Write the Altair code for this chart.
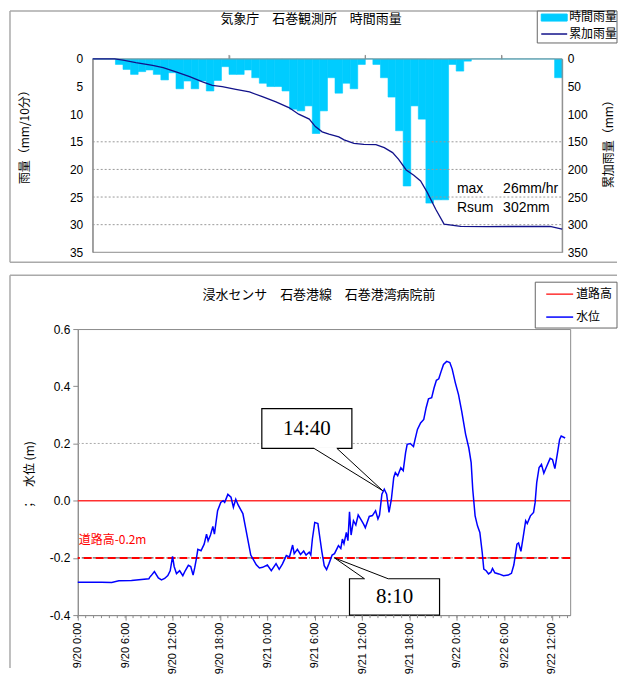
import altair as alt
import pandas as pd

CJK = "Noto Sans CJK JP"
LAT = "Liberation Sans"
SERIF = "Liberation Serif"
CYAN = "#00CCFF"
NAVY = "#12128A"
BLUE = "#0000FF"
RED = "#FF3030"
GREY = "#8C8C8C"

# ---------------- top panel data ----------------
# hourly rainfall, one bar per hour counted from 9/20 0:00
rain_hour = list(range(62))
rain_mm = [0, 0, 0, 1.0, 1.9, 2.8, 2.3, 2.0, 2.8, 3.8, 2.5, 5.4, 4.0, 5.4, 4.0, 5.8, 3.9, 1.4,
           2.8, 2.8, 2.0, 3.4, 4.4, 5.0, 5.0, 5.8, 9.1, 9.4, 8.5, 13.5, 9.4, 3.4, 6.2, 4.4,
           5.4, 1.0, 0, 1.0, 3.4, 6.9, 13.0, 23.0, 8.5, 10.9, 26.1, 25.5, 25.5, 1.0, 2.2, 0.4,
           0, 0, 0, 0, 0, 0, 0, 0, 0, 0, 0, 3.4]
# cumulative rainfall line
cum_hour = [0, 2.9, 4.0, 5.7, 7.9, 9.3, 11.0, 12.8, 14.5, 15.8, 17.1, 18.9, 20.7, 22.4, 24.2,
            25.9, 27.2, 28.6, 29.4, 30.3, 31.2, 32.5, 33.2, 34.5, 35.8, 37.4, 38.5, 39.6, 40.4,
            41.4, 42.4, 43.3, 44.2, 45.3, 46.4, 48.6, 52.1, 60.4, 61.7, 62.0]
cum_mm = [0, 0, 2, 6.7, 11.5, 15.7, 23.6, 32, 41.7, 47.7, 50, 55, 59.8, 68.2, 77.8, 88, 100,
          109, 122.5, 132, 136, 141, 146.6, 152.7, 154.5, 155, 160.5, 169.6, 181.7, 201, 210.6,
          220.8, 242, 272, 299, 303, 303.5, 303, 307, 308]
left_ticks = [0, 5, 10, 15, 20, 25, 30, 35]
right_ticks = [0, 50, 100, 150, 200, 250, 300, 350]
grid_top = [15, 20, 25, 30]
top_tick_hours = [18, 36, 54]

# ---------------- bottom panel data ----------------
level_hour = [0.0, 3.0, 4.3, 5.2, 6.8, 9.0, 9.1, 9.3, 9.7, 10.2, 10.6, 11.0, 11.4, 11.7, 12.0,
              12.2, 12.5, 12.9, 13.3, 13.6, 14.0, 14.3, 14.6, 14.8, 15.0, 15.2, 15.6, 16.0,
              16.3, 16.5, 16.8, 17.1, 17.3, 17.7, 18.1, 18.4, 18.6, 19.0, 19.4, 19.7, 20.0,
              20.3, 20.9, 21.3, 21.9, 22.6, 23.0, 23.4, 24.0, 24.5, 25.1, 25.5, 25.9, 26.4,
              26.8, 27.2, 27.4, 27.8, 28.2, 28.6, 28.9, 29.3, 29.5, 29.7, 30.0, 30.4, 30.6,
              30.9, 31.2, 31.5, 31.8, 32.2, 32.5, 33.0, 33.3, 33.5, 33.7, 34.0, 34.2, 34.4,
              34.6, 34.9, 35.2, 35.5, 35.8, 36.2, 36.4, 36.9, 37.3, 37.7, 38.0, 38.2, 38.5,
              38.8, 39.1, 39.4, 39.7, 40.0, 40.2, 40.5, 40.9, 41.2, 41.5, 41.7, 42.1, 42.5,
              42.7, 43.0, 43.4, 43.8, 44.1, 44.4, 44.8, 45.1, 45.4, 45.7, 46.0, 46.3, 46.7,
              47.1, 47.4, 47.8, 48.2, 48.6, 49.1, 49.5, 49.8, 50.0, 50.3, 50.6, 50.9, 51.2,
              51.4, 51.7, 52.0, 52.3, 52.5, 52.8, 53.3, 53.9, 54.5, 54.9, 55.2, 55.6, 55.8,
              56.1, 56.4, 56.7, 56.9, 57.3, 57.7, 57.9, 58.1, 58.4, 58.7, 59.0, 59.3, 59.8,
              60.1, 60.4, 60.7, 61.0, 61.2, 61.7]
level_m = [-0.285, -0.285, -0.286, -0.280, -0.279, -0.273, -0.268, -0.262, -0.248, -0.270,
           -0.277, -0.272, -0.262, -0.245, -0.195, -0.230, -0.255, -0.245, -0.262, -0.245,
           -0.226, -0.230, -0.260, -0.235, -0.205, -0.170, -0.175, -0.152, -0.117, -0.140,
           -0.120, -0.090, -0.117, -0.035, -0.006, 0.000, -0.006, 0.022, 0.012, -0.023, 0.005,
           -0.015, -0.045, -0.103, -0.190, -0.224, -0.235, -0.233, -0.225, -0.245, -0.220,
           -0.240, -0.222, -0.192, -0.197, -0.155, -0.185, -0.170, -0.188, -0.176, -0.190,
           -0.180, -0.190, -0.134, -0.076, -0.080, -0.120, -0.178, -0.227, -0.241, -0.220,
           -0.190, -0.185, -0.157, -0.167, -0.134, -0.150, -0.111, -0.140, -0.039, -0.120,
           -0.070, -0.085, -0.050, -0.064, -0.083, -0.095, -0.055, -0.052, -0.035, -0.064,
           -0.050, 0.023, 0.040, 0.023, -0.041, 0.005, 0.081, 0.098, 0.087, 0.115, 0.105,
           0.168, 0.197, 0.200, 0.189, 0.214, 0.249, 0.272, 0.284, 0.325, 0.356, 0.360, 0.394,
           0.421, 0.426, 0.452, 0.476, 0.487, 0.483, 0.460, 0.412, 0.371, 0.313, 0.232, 0.185,
           0.133, 0.040, -0.053, -0.088, -0.111, -0.181, -0.239, -0.245, -0.256, -0.250,
           -0.237, -0.252, -0.256, -0.262, -0.260, -0.254, -0.225, -0.152, -0.148, -0.177,
           -0.125, -0.070, -0.080, -0.053, -0.041, -0.006, 0.063, 0.116, 0.127, 0.096, 0.116,
           0.148, 0.144, 0.112, 0.162, 0.214, 0.226, 0.219]
level_ticks = [-0.4, -0.2, 0.0, 0.2, 0.4, 0.6]
road_level = 0.0
road_minus = -0.2

BASE = pd.Timestamp("2016-09-20 00:00")


def at(h):
    return BASE + pd.Timedelta(hours=h)


def dt(h):
    return alt.DateTime(year=2016, month=9, date=20 + int(h // 24), hours=int(h % 24),
                        minutes=int(round((h % 1) * 60)))


one = pd.DataFrame({"k": [0]})


def hline(x1, x2, y, color, width=1.0):
    return alt.Chart(one).mark_rule(color=color, strokeWidth=width).encode(
        x=alt.value(x1), x2=alt.value(x2), y=alt.value(y))


def vline(x, y1, y2, color, width=1.0):
    return alt.Chart(one).mark_rule(color=color, strokeWidth=width).encode(
        x=alt.value(x), y=alt.value(y1), y2=alt.value(y2))


def label(x, y, txt, size=13, font=CJK, align="left", color="black"):
    return alt.Chart(one).mark_text(font=font, fontSize=size, align=align,
                                    baseline="middle", color=color).encode(
        x=alt.value(x), y=alt.value(y), text=alt.value(txt))


def box(x1, x2, y1, y2, fill="white", stroke="#666666"):
    return alt.Chart(one).mark_rect(fill=fill, stroke=stroke, strokeWidth=1).encode(
        x=alt.value(x1), x2=alt.value(x2), y=alt.value(y1), y2=alt.value(y2))


# ================= TOP PANEL =================
W1, H1 = 486, 194
xs_top = alt.Scale(domain=[0, 62], range=[15, W1], nice=False, zero=False)
ys_left = alt.Scale(domain=[0, 35], reverse=True, nice=False, zero=False)
ys_right = alt.Scale(domain=[0, 350], reverse=True, nice=False, zero=False)

AX_TOP = alt.Axis(orient="top", values=top_tick_hours, labels=False, title=None,
                  domain=False, grid=False, tickColor=GREY, tickSize=4)
AY_LEFT = alt.Axis(orient="left", values=left_ticks, offset=-15, ticks=False,
                   grid=False, domainColor=GREY, labelFont=LAT, labelFontSize=12,
                   labelColor="black", labelPadding=10, format="d",
                   title="雨量（mm/10分）", titleFont=CJK, titleFontSize=12,
                   titleFontWeight="normal", titleAngle=270, titleX=-68, titleY=75,
                   titleBaseline="middle", titleAlign="center")
AY_RIGHT = alt.Axis(orient="right", values=right_ticks, ticks=False, grid=False,
                    domainColor=GREY, labelFont=LAT, labelFontSize=12,
                    labelColor="black", labelPadding=5, format="d",
                    title="累加雨量（mm）", titleFont=CJK, titleFontSize=12,
                    titleFontWeight="normal", titleAngle=270, titleX=46, titleY=82,
                    titleBaseline="middle", titleAlign="center")


def XT(f):
    return alt.X(f, scale=xs_top, axis=AX_TOP)


def YL(f):
    return alt.Y(f, scale=ys_left, axis=AY_LEFT)


rain_df = pd.DataFrame({"h": rain_hour, "mm": rain_mm})
rain_df["h2"] = rain_df["h"] + 1
rain_df["base"] = 0.0
cum_df = pd.DataFrame({"h": cum_hour, "mm": cum_mm})

bars = alt.Chart(rain_df).mark_rect(color=CYAN, stroke=CYAN, strokeWidth=0.6).encode(
    x=XT("h:Q"), x2="h2:Q", y=YL("mm:Q"), y2="base:Q")

grid_df = pd.DataFrame({"g": grid_top, "x0": 0, "x1": 62})
grid = alt.Chart(grid_df).mark_rule(color="#9A9A9A", strokeDash=[2, 2], strokeWidth=1).encode(
    x=XT("x0:Q"), x2="x1:Q", y=YL("g:Q"))

# plot-area frame of the rainfall panel (top/bottom and left/right edges)
hframe_df = pd.DataFrame({"g": [0, 35], "x0": 0, "x1": 62})
hframe = alt.Chart(hframe_df).mark_rule(color=GREY, strokeWidth=1).encode(
    x=XT("x0:Q"), x2="x1:Q", y=YL("g:Q"))
vframe_df = pd.DataFrame({"h": [0, 62], "y0": 0, "y1": 35})
vframe = alt.Chart(vframe_df).mark_rule(color=GREY, strokeWidth=1).encode(
    x=XT("h:Q"), y=YL("y0:Q"), y2="y1:Q")
tticks = alt.Chart(pd.DataFrame({"h": top_tick_hours})).mark_rule(
    color=GREY, strokeWidth=1).encode(x=XT("h:Q"), y=alt.value(-4), y2=alt.value(0))

note_df = pd.DataFrame({"h": [48.1, 48.1, 54.2, 54.2], "v": [23.6, 26.9, 23.6, 26.9],
                        "t": ["max", "Rsum", "26mm/hr", "302mm"]})
notes = alt.Chart(note_df).mark_text(font=LAT, fontSize=14, align="left",
                                     baseline="middle", color="black").encode(
    x=XT("h:Q"), y=YL("v:Q"), text="t:N")

top_deco = [
    hline(-68, 541, -48, "#AAAAAA", 1.5),
    vline(-68, -48, 204, "#AAAAAA", 1.5),
    hline(-68, 541, 204, "#AAAAAA", 1.5),
    label(234, -40, "気象庁　石巻観測所　時間雨量", 13, align="center"),
    box(461, 541, -48, -16),
    box(465, 491, -45, -38, fill=CYAN, stroke=CYAN),
    label(493, -42, "時間雨量", 12),
    hline(465, 491, -25, NAVY, 1.5),
    label(493, -25, "累加雨量", 12),
]

left_layer = alt.layer(bars, grid, hframe, vframe, tticks, notes, *top_deco)

cum_line = alt.Chart(cum_df).mark_line(color=NAVY, strokeWidth=1.3).encode(
    x=XT("h:Q"), y=alt.Y("mm:Q", scale=ys_right, axis=AY_RIGHT))

top = alt.layer(left_layer, cum_line).resolve_scale(y="independent").properties(
    width=W1, height=H1, view=alt.ViewBackground(stroke="transparent"))

# ================= BOTTOM PANEL =================
W2, H2 = 494, 287
xs_bot = alt.Scale(domain=[dt(0), dt(62 + 20 / 60)], nice=False)
ys_bot = alt.Scale(domain=[-0.4, 0.6], nice=False, zero=False)

AX_BOT = alt.Axis(values=[dt(h) for h in range(0, 61, 6)], format="%-m/%-d %-H:%M",
                  labelAngle=270, labelFont=LAT, labelFontSize=11,
                  labelColor="black", labelPadding=2, labelFlush=False,
                  labelOverlap=False, tickSize=5, tickColor=GREY, domainColor=GREY,
                  grid=False, title=None)
AY_BOT = alt.Axis(values=level_ticks,
                  labelExpr="replace(format(datum.value, '.1f'), '\u2212', '-')",
                  labelFont=LAT, labelFontSize=12, labelColor="black",
                  labelPadding=3, tickSize=5, tickColor=GREY, domainColor=GREY,
                  grid=False, title="；　水位 (m)", titleFont=CJK, titleFontSize=12,
                  titleFontWeight="normal", titleAngle=270, titleX=-48, titleY=147,
                  titleBaseline="middle", titleAlign="center")


def XB(f):
    return alt.X(f, scale=xs_bot, axis=AX_BOT)


def YB(f):
    return alt.Y(f, scale=ys_bot, axis=AY_BOT)


water_df = pd.DataFrame({"t": [at(h) for h in level_hour], "m": level_m})
water = alt.Chart(water_df).mark_line(color=BLUE, strokeWidth=1.5).encode(
    x=XB("t:T"), y=YB("m:Q"))

grid2 = alt.Chart(pd.DataFrame({"g": [0.2]})).mark_rule(
    color="#AAAAAA", strokeDash=[2, 2], strokeWidth=1).encode(y=YB("g:Q"))
red0 = alt.Chart(pd.DataFrame({"g": [road_level]})).mark_rule(
    color=RED, strokeWidth=1.5).encode(y=YB("g:Q"))
dd = alt.Chart(pd.DataFrame({"g": [road_minus]})).mark_rule(
    color="#333333", strokeWidth=1, strokeDash=[6, 2, 1, 2]).encode(y=YB("g:Q"))
red2 = alt.Chart(pd.DataFrame({"g": [road_minus]})).mark_rule(
    color="#FF0000", strokeWidth=2, strokeDash=[8, 4]).encode(y=YB("g:Q"))

road_txt = alt.Chart(pd.DataFrame({"t": [at(0)], "v": [-0.137], "s": ["道路高-0.2m"]})).mark_text(
    font=CJK, fontSize=12, align="left", baseline="middle", color="#FF0000", dx=1).encode(
    x=XB("t:T"), y=YB("v:Q"), text="s:N")

box_df = pd.DataFrame({"a": [at(23.3), at(34.4)], "b": [at(34.7), at(45.8)],
                       "top": [0.322, -0.273], "bot": [0.183, -0.400]})
cboxes = alt.Chart(box_df).mark_rect(fill="white", stroke="black", strokeWidth=1.2).encode(
    x=XB("a:T"), x2="b:T", y=YB("top:Q"), y2="bot:Q")

gap_df = pd.DataFrame({"a": [at(29.9), at(36.3)], "b": [at(32.8), at(39.3)],
                       "v": [0.183, -0.273]})
gaps = alt.Chart(gap_df).mark_rule(color="white", strokeWidth=2.5).encode(
    x=XB("a:T"), x2="b:T", y=YB("v:Q"))

ptr_df = pd.DataFrame({
    "g": ["a", "a", "a", "b", "b", "b"],
    "o": [0, 1, 2, 0, 1, 2],
    "t": [at(29.9), at(38.6), at(32.8), at(36.3), at(32.5), at(39.3)],
    "v": [0.183, 0.035, 0.183, -0.273, -0.200, -0.273],
})
ptrs = alt.Chart(ptr_df).mark_line(color="black", strokeWidth=1).encode(
    x=XB("t:T"), y=YB("v:Q"), detail="g:N", order="o:Q")

ctext_df = pd.DataFrame({"t": [at(29.0), at(40.1)], "v": [0.252, -0.337],
                         "s": ["14:40", "8:10"]})
ctext = alt.Chart(ctext_df).mark_text(font=SERIF, fontSize=21, align="center",
                                      baseline="middle", color="black").encode(
    x=XB("t:T"), y=YB("v:Q"), text="s:N")

minor = alt.Chart(pd.DataFrame({"t": [at(h) for h in range(63)]})).mark_rule(
    color=GREY, strokeWidth=1).encode(
    x=XB("t:T"), y=alt.value(H2), y2=alt.value(H2 + 3))

bot_deco = [
    hline(-68, 541, -54, "#AAAAAA", 1.5),
    vline(-68, -54, 340, "#AAAAAA", 1.5),
    label(242, -34, "浸水センサ　石巻港線　石巻港湾病院前", 13, align="center"),
    box(459, 541, -47, -1),
    hline(470, 497, -35, RED, 1.5),
    label(500, -35, "道路高", 12),
    hline(470, 497, -12, BLUE, 1.5),
    label(500, -12, "水位", 12),
]

bottom = alt.layer(grid2, red0, dd, red2, water, road_txt, cboxes, gaps, ptrs, ctext, minor,
                   *bot_deco).properties(
    width=W2, height=H2, view=alt.ViewBackground(stroke=GREY))

chart = alt.vconcat(top, bottom, spacing=77, bounds="flush").configure(
    background="white", padding=0)

chart.save("out.html", embed_options={"renderer": "svg", "actions": False})
